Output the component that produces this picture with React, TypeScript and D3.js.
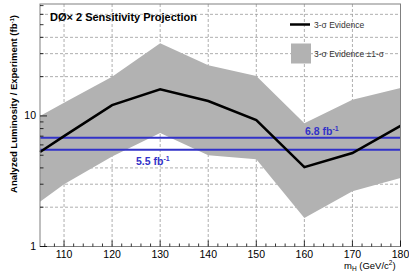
import React from "react";
import * as d3 from "d3";

// Higgs mass points (GeV/c^2)
const masses = [105, 110, 120, 130, 140, 150, 160, 170, 180];
// 3-sigma evidence luminosity (fb^-1)
const evidence = [5.3, 7.0, 12.1, 16.0, 13.0, 9.3, 4.05, 5.2, 8.4];
// +-1 sigma band
const bandUpper = [10, 12.6, 20, 36, 24.5, 20.2, 8.8, 13.3, 16.4];
const bandLower = [2.2, 3.0, 4.9, 7.4, 5.0, 4.65, 1.65, 2.65, 3.35];

const xTicks = [110, 120, 130, 140, 150, 160, 170, 180];
const xGrid = [110, 120, 130, 140, 150, 160, 170];
const yGrid = [2, 3, 4, 20, 30, 40, 60];
const yLabels = [1, 10];
const refLines = [
  { value: 6.8, label: "6.8 fb", lx: 305, ly: 135 },
  { value: 5.5, label: "5.5 fb", lx: 136, ly: 165 },
];

const W = 409;
const H = 277;
const font = "'Liberation Sans', Arial, Helvetica, sans-serif";

export default function App() {
  const x = d3.scaleLinear().domain([105, 180]).range([40, 400.5]);
  const y = d3.scaleLog().domain([1, 72]).range([246.5, 4]);

  const pts = masses.map((m, i) => ({ m, v: evidence[i], lo: bandLower[i], hi: bandUpper[i] }));

  const band = d3.area<any>()
    .x((d) => x(d.m))
    .y0((d) => y(d.lo))
    .y1((d) => y(d.hi));

  const line = d3.line<any>()
    .x((d) => x(d.m))
    .y((d) => y(d.v));

  const xMinor = d3.range(106, 180, 2).filter((v) => v % 10 !== 0);
  const yMinor = [2, 3, 4, 5, 6, 7, 8, 9, 20, 30, 40, 50, 60, 70];

  const [x0, x1] = x.range();
  const [yb, yt] = y.range();

  return (
    <svg width={W} height={H} style={{ position: "absolute", left: 0, top: 0, background: "#fff" }} fontFamily={font}>
      {/* grid */}
      <g stroke="#9a9a9a" strokeWidth={0.8} strokeDasharray="3,2">
        {xGrid.map((v) => (
          <line key={"gx" + v} x1={x(v)} x2={x(v)} y1={yt} y2={yb} />
        ))}
        {yGrid.map((v) => (
          <line key={"gy" + v} x1={x0} x2={x1} y1={y(v)} y2={y(v)} />
        ))}
      </g>

      {/* +-1 sigma band */}
      <path d={band(pts) || ""} fill="#b2b2b2" />

      {/* luminosity reference lines */}
      {refLines.map((r) => (
        <g key={r.label}>
          <line x1={x0} x2={x1} y1={y(r.value)} y2={y(r.value)} stroke="#3232c8" strokeWidth={2} />
          <text x={r.lx} y={r.ly} fontSize={10.5} fontWeight="bold" fill="#3232c8">
            {r.label}
            <tspan dy={-4} fontSize={7}>-1</tspan>
          </text>
        </g>
      ))}

      {/* 3-sigma evidence */}
      <path d={line(pts) || ""} fill="none" stroke="#000" strokeWidth={2.5} />

      {/* frame */}
      <rect x={x0} y={yt} width={x1 - x0} height={yb - yt} fill="none" stroke="#808080" strokeWidth={1} />

      {/* ticks */}
      <g stroke="#000" strokeWidth={0.8}>
        {xTicks.map((v) => (
          <line key={"xt" + v} x1={x(v)} x2={x(v)} y1={yb} y2={yb - 6} />
        ))}
        {xMinor.map((v) => (
          <line key={"xm" + v} x1={x(v)} x2={x(v)} y1={yb} y2={yb - 3} />
        ))}
        {yLabels.map((v) => (
          <line key={"yt" + v} x1={x0} x2={x0 + 7} y1={y(v)} y2={y(v)} />
        ))}
        {yMinor.map((v) => (
          <line key={"ym" + v} x1={x0} x2={x0 + 3.5} y1={y(v)} y2={y(v)} />
        ))}
      </g>

      {/* tick labels */}
      {xTicks.map((v) => (
        <text key={"xl" + v} x={x(v)} y={258} textAnchor="middle" fontSize={10.5} fill="#000">
          {v}
        </text>
      ))}
      {yLabels.map((v) => (
        <text key={"yl" + v} x={36} y={y(v) + 3.5} textAnchor="end" fontSize={10.5} fill="#000">
          {v}
        </text>
      ))}

      {/* axis titles */}
      <text x={344} y={269} fontSize={9.5} fill="#000">
        m<tspan dy={2} fontSize={6.5}>H</tspan>
        <tspan dy={-2}> (GeV/c</tspan>
        <tspan dy={-4} fontSize={6.5}>2</tspan>
        <tspan dy={4}>)</tspan>
      </text>
      <text transform="translate(17,104) rotate(-90)" textAnchor="middle" fontSize={9.5} fontWeight="bold" fill="#000">
        Analyzed Luminosity / Experiment (fb
        <tspan dy={-3.5} fontSize={6}>-1</tspan>
        <tspan dy={3.5}>)</tspan>
      </text>

      {/* title */}
      <text x={50} y={21} fontSize={11} fontWeight="bold" fill="#000">
        DØ× 2 Sensitivity Projection
      </text>

      {/* legend */}
      <line x1={290} x2={310} y1={24.5} y2={24.5} stroke="#000" strokeWidth={2.5} />
      <text x={314} y={27.5} fontSize={8.5} fill="#333">3-σ Evidence</text>
      <rect x={291} y={43.5} width={20} height={20} fill="#b2b2b2" />
      <text x={314} y={56.5} fontSize={8.5} fill="#333">3-σ Evidence ±1-σ</text>
    </svg>
  );
}
